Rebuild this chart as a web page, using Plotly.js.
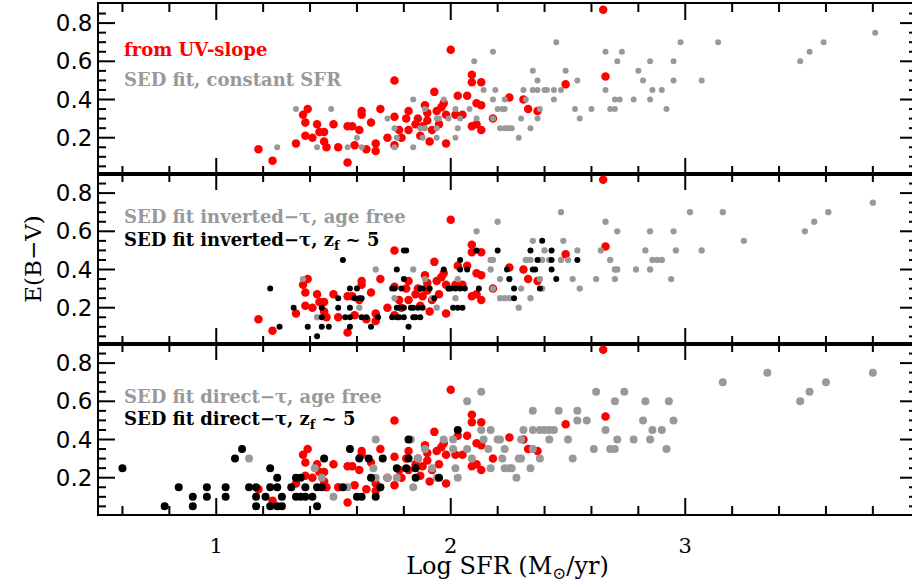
<!DOCTYPE html>
<html>
<head>
<meta charset="utf-8">
<script src="https://cdn.plot.ly/plotly-3.0.1.min.js"></script>
<style>
html,body{margin:0;padding:0;overflow:hidden;background:#fff;}
#chart{width:918px;height:583px;}
</style>
</head>
<body>
<div id="chart"></div>
<script>
// ---- Data ----
// E(B-V) from UV slope (red) - same sample shown in all panels
const uvSlopeX = [1.18,1.24,1.34,1.38,1.37,1.39,1.38,1.41,1.43,1.44,
                  1.46,1.46,1.47,1.50,1.52,1.56,1.56,1.58,1.61,1.62,
                  1.62,1.59,1.64,1.66,1.68,1.68,1.70,1.73,1.76,1.76,
                  1.76,1.78,1.79,1.81,1.82,1.82,1.85,1.86,1.87,1.88,
                  1.89,1.90,1.90,1.91,1.92,1.93,1.94,1.95,1.96,1.97,
                  1.98,1.98,2.00,2.02,2.03,2.05,2.07,2.09,2.09,2.09,
                  2.11,2.11,2.13,2.13,2.13,2.18,2.25,2.31,2.33,2.37,
                  2.49,2.65,2.66];
const uvSlopeY = [0.14,0.08,0.17,0.21,0.32,0.35,0.28,0.20,0.27,0.23,
                  0.23,0.18,0.15,0.27,0.15,0.07,0.26,0.26,0.24,0.32,
                  0.34,0.16,0.14,0.28,0.17,0.13,0.35,0.20,0.31,0.50,
                  0.16,0.24,0.20,0.30,0.34,0.24,0.27,0.30,0.21,0.26,
                  0.37,0.33,0.29,0.18,0.24,0.44,0.34,0.27,0.36,0.38,
                  0.32,0.17,0.66,0.32,0.42,0.32,0.42,0.26,0.53,0.49,
                  0.27,0.38,0.49,0.37,0.24,0.30,0.41,0.40,0.35,0.34,
                  0.48,0.87,0.52];

// SED fit, constant SFR (gray, top panel)
const constSfrX = [1.26,1.34,1.43,1.49,1.56,1.60,1.62,1.73,1.76,1.76,
                   1.77,1.84,1.84,1.87,1.89,1.89,1.88,1.94,1.94,1.94,
                   1.95,1.97,1.99,2.02,2.03,2.02,2.04,2.08,2.10,2.11,
                   2.14,2.18,2.18,2.19,2.20,2.21,2.18,2.23,2.25,2.23,
                   2.22,2.23,2.24,2.26,2.29,2.30,2.31,2.32,2.34,2.35,
                   2.35,2.37,2.37,2.37,2.38,2.40,2.41,2.44,2.44,2.45,
                   2.47,2.49,2.53,2.54,2.55,2.60,2.66,2.66,2.68,2.70,
                   2.70,2.72,2.71,2.73,2.78,2.80,2.82,2.85,2.85,2.86,
                   2.90,2.92,2.95,2.95,2.98,3.07,3.14,3.49,3.53,3.59,
                   3.81];
const constSfrY = [0.15,0.35,0.15,0.35,0.15,0.20,0.15,0.30,0.25,0.15,
                   0.20,0.15,0.40,0.25,0.25,0.35,0.20,0.30,0.25,0.20,
                   0.30,0.40,0.30,0.35,0.25,0.20,0.30,0.35,0.60,0.30,
                   0.45,0.65,0.40,0.45,0.35,0.25,0.30,0.25,0.25,0.40,
                   0.35,0.35,0.25,0.25,0.20,0.30,0.45,0.40,0.25,0.45,
                   0.55,0.30,0.50,0.45,0.35,0.45,0.45,0.45,0.40,0.70,
                   0.45,0.55,0.35,0.50,0.30,0.35,0.45,0.65,0.35,0.35,
                   0.40,0.40,0.60,0.65,0.40,0.55,0.50,0.60,0.40,0.45,
                   0.45,0.35,0.60,0.50,0.70,0.50,0.70,0.60,0.65,0.70,
                   0.75];

// SED fit inverted-tau, age free (gray, middle panel)
const invFreeX = [1.37,1.43,1.61,1.68,1.76,1.84,1.89,1.92,1.94,1.99,
                  2.02,2.03,2.11,2.17,2.17,2.18,2.18,2.20,2.21,2.21,
                  2.23,2.25,2.25,2.30,2.32,2.34,2.34,2.35,2.38,2.39,
                  2.38,2.39,2.42,2.40,2.29,2.47,2.47,2.48,2.50,2.52,
                  2.54,2.55,2.62,2.64,2.66,2.68,2.70,2.70,2.71,2.71,
                  2.79,2.83,2.85,2.85,2.86,2.88,2.90,2.94,2.95,2.96,
                  3.02,3.07,3.16,3.25,3.51,3.55,3.61,3.80];
const invFreeY = [0.35,0.15,0.20,0.40,0.25,0.40,0.35,0.25,0.20,0.30,
                  0.25,0.35,0.60,0.45,0.40,0.30,0.45,0.65,0.35,0.25,
                  0.25,0.25,0.35,0.30,0.45,0.25,0.45,0.55,0.35,0.30,
                  0.45,0.45,0.45,0.50,0.20,0.70,0.45,0.55,0.45,0.35,
                  0.50,0.30,0.35,0.50,0.65,0.45,0.35,0.40,0.40,0.60,
                  0.40,0.50,0.60,0.40,0.45,0.45,0.45,0.35,0.60,0.50,
                  0.70,0.50,0.70,0.55,0.60,0.65,0.70,0.75];

// SED fit inverted-tau, z_f ~ 5 (black, middle panel)
const invZfX = [1.23,1.27,1.33,1.39,1.43,1.45,1.45,1.45,1.48,1.52,
                1.52,1.54,1.55,1.57,1.57,1.57,1.57,1.59,1.61,1.62,
                1.60,1.62,1.64,1.66,1.69,1.75,1.76,1.75,1.77,1.78,
                1.80,1.77,1.77,1.78,1.80,1.80,1.81,1.79,1.80,1.82,
                1.84,1.85,1.87,1.83,1.84,1.86,1.88,1.87,1.88,1.91,
                1.93,1.97,1.99,2.00,2.01,2.03,2.05,2.02,2.04,2.06,
                2.04,2.07,2.04,2.11,2.12,2.20,2.24,2.25,2.27,2.27,
                2.34,2.35,2.36,2.37,2.38,2.39,2.43,2.43,2.43,2.45,
                2.54];
const invZfY = [0.30,0.10,0.20,0.10,0.05,0.20,0.15,0.10,0.10,0.25,
                0.20,0.45,0.15,0.15,0.30,0.20,0.10,0.25,0.25,0.25,
                0.30,0.15,0.15,0.10,0.15,0.30,0.30,0.15,0.15,0.15,
                0.15,0.40,0.20,0.20,0.20,0.50,0.50,0.30,0.35,0.10,
                0.15,0.15,0.15,0.20,0.20,0.20,0.20,0.30,0.30,0.30,
                0.25,0.40,0.30,0.30,0.20,0.20,0.20,0.30,0.30,0.30,
                0.40,0.40,0.45,0.50,0.30,0.50,0.40,0.35,0.30,0.25,
                0.50,0.40,0.40,0.45,0.30,0.55,0.50,0.45,0.40,0.35,
                0.45];

// SED fit direct-tau, age free (gray, bottom panel)
const dirFreeX = [1.14,1.42,1.45,1.50,1.56,1.67,1.68,1.68,1.73,1.77,
                  1.83,1.84,1.86,1.89,1.92,1.94,1.97,2.01,2.01,2.02,
                  2.03,2.07,2.07,2.09,2.13,2.13,2.14,2.16,2.17,2.20,
                  2.17,2.22,2.25,2.21,2.23,2.26,2.23,2.28,2.29,2.30,
                  2.30,2.31,2.34,2.35,2.35,2.35,2.38,2.38,2.40,2.42,
                  2.44,2.42,2.46,2.50,2.52,2.54,2.54,2.58,2.61,2.62,
                  2.66,2.68,2.70,2.70,2.71,2.74,2.78,2.82,2.83,2.85,
                  2.86,2.90,2.92,2.93,2.95,3.16,3.35,3.49,3.53,3.60,
                  3.80];
const dirFreeY = [0.30,0.25,0.20,0.10,0.15,0.25,0.40,0.20,0.20,0.20,
                  0.40,0.15,0.30,0.35,0.25,0.20,0.40,0.40,0.35,0.25,
                  0.20,0.60,0.35,0.30,0.65,0.45,0.40,0.35,0.45,0.40,
                  0.25,0.30,0.25,0.40,0.25,0.25,0.35,0.20,0.30,0.30,
                  0.40,0.45,0.25,0.45,0.55,0.35,0.30,0.45,0.45,0.45,
                  0.45,0.40,0.55,0.40,0.30,0.50,0.55,0.50,0.35,0.65,
                  0.45,0.35,0.35,0.60,0.40,0.65,0.40,0.50,0.60,0.40,
                  0.45,0.45,0.35,0.60,0.50,0.70,0.75,0.60,0.65,0.70,
                  0.75];

// SED fit direct-tau, z_f ~ 5 (black, bottom panel)
const dirZfX = [0.60,0.78,0.84,0.90,0.90,0.96,0.96,1.04,1.04,1.08,
                1.11,1.14,1.17,1.17,1.21,1.17,1.23,1.23,1.26,1.26,
                1.23,1.26,1.28,1.28,1.32,1.34,1.36,1.34,1.36,1.38,
                1.41,1.38,1.43,1.43,1.45,1.46,1.54,1.57,1.60,1.62,
                1.61,1.65,1.66,1.68,1.70,1.71,1.77,1.81,1.82,1.82,
                1.85,1.85,1.95,2.03];
const dirZfY = [0.25,0.05,0.15,0.10,0.05,0.15,0.10,0.15,0.10,0.30,
                0.35,0.15,0.15,0.10,0.10,0.05,0.25,0.15,0.15,0.20,
                0.05,0.05,0.05,0.10,0.15,0.20,0.20,0.10,0.10,0.10,
                0.10,0.15,0.05,0.15,0.15,0.30,0.15,0.35,0.10,0.10,
                0.30,0.30,0.20,0.10,0.15,0.30,0.25,0.25,0.30,0.40,
                0.25,0.20,0.20,0.45];

// Tick positions / labels
const xMajorTicks = [1, 2, 3];
const xTickText = ['1', '2', '3'];
const xMinorTicks = [0.6, 0.8, 1.2, 1.4, 1.6, 1.8, 2.2, 2.4, 2.6, 2.8, 3.2, 3.4, 3.6, 3.8];
const yMajorTicks = [0.2, 0.4, 0.6, 0.8];
const yTickText = ['0.2', '0.4', '0.6', '0.8'];
const yMinorTicks = [0.05, 0.1, 0.15, 0.25, 0.3, 0.35, 0.45, 0.5, 0.55, 0.65, 0.7, 0.75, 0.85];

const labels = {
  uv: 'from UV-slope',
  constSfr: 'SED fit, constant SFR',
  invFree: 'SED fit inverted\u2212\u03c4, age free',
  invZf: 'SED fit inverted\u2212\u03c4, z<sub>f</sub> ~ 5',
  dirFree: 'SED fit direct\u2212\u03c4, age free',
  dirZf: 'SED fit direct\u2212\u03c4, z<sub>f</sub> ~ 5'
};

// ---- Styles ----
const RED = '#ff0000', GRAY = '#999999', BLACK = '#000000';
const XR = [0.5, 3.984];
const YR = [0.01, 0.9];
const PLOT_W = 817, PANEL_H = 170;      // plot-area size in px (for tick lengths)
const MAJ = 16, MIN_X = 8, MIN_Y = 7;   // tick lengths in px

function pts(x, y, color, size, xa, ya, name) {
  return {type: 'scatter', mode: 'markers', x: x, y: y, xaxis: xa, yaxis: ya, name: name,
          marker: {color: color, size: size, line: {width: 0}}, hoverinfo: 'x+y', showlegend: false};
}

// inward tick marks on the four sides of a panel, as a line trace on that panel's axes
function tickTrace(xa, ya) {
  const tx = [], ty = [];
  const dy = len => len / PANEL_H * (YR[1] - YR[0]);
  const dx = len => len / PLOT_W * (XR[1] - XR[0]);
  const addX = (v, len) => {
    tx.push(v, v, null, v, v, null);
    ty.push(YR[0], YR[0] + dy(len), null, YR[1], YR[1] - dy(len), null);
  };
  const addY = (v, len) => {
    tx.push(XR[0], XR[0] + dx(len), null, XR[1], XR[1] - dx(len), null);
    ty.push(v, v, null, v, v, null);
  };
  xMajorTicks.forEach(v => addX(v, MAJ));
  xMinorTicks.forEach(v => addX(v, MIN_X));
  yMajorTicks.forEach(v => addY(v, MAJ));
  yMinorTicks.forEach(v => addY(v, MIN_Y));
  return {type: 'scatter', mode: 'lines', x: tx, y: ty, xaxis: xa, yaxis: ya, connectgaps: false,
          line: {color: '#000', width: 2}, hoverinfo: 'skip', showlegend: false, cliponaxis: false};
}

const traces = [
  pts(uvSlopeX, uvSlopeY, RED, 8.5, 'x', 'y', labels.uv),
  pts(constSfrX, constSfrY, GRAY, 6, 'x', 'y', labels.constSfr),
  pts(uvSlopeX, uvSlopeY, RED, 8.5, 'x2', 'y2', labels.uv),
  pts(invFreeX, invFreeY, GRAY, 6.3, 'x2', 'y2', labels.invFree),
  pts(invZfX, invZfY, BLACK, 6, 'x2', 'y2', labels.invZf),
  pts(uvSlopeX, uvSlopeY, RED, 8.5, 'x3', 'y3', labels.uv),
  pts(dirFreeX, dirFreeY, GRAY, 8, 'x3', 'y3', labels.dirFree),
  pts(dirZfX, dirZfY, BLACK, 8, 'x3', 'y3', labels.dirZf),
  tickTrace('x', 'y'), tickTrace('x2', 'y2'), tickTrace('x3', 'y3')
];

function xAxis(anchor, showLabels) {
  return {
    anchor: anchor, domain: [0, 1], range: XR, showgrid: false, zeroline: false,
    showline: true, linecolor: '#000', linewidth: 2, mirror: true,
    // invisible outside ticks only push the labels down
    ticks: showLabels ? 'outside' : '', ticklen: 12, tickcolor: 'rgba(0,0,0,0)',
    tickmode: 'array', tickvals: xMajorTicks, ticktext: xTickText,
    showticklabels: showLabels,
    tickfont: {family: 'DejaVu Serif', size: 21, color: '#000'}
  };
}
function yAxis(anchor, domain) {
  return {
    anchor: anchor, domain: domain, range: YR, showgrid: false, zeroline: false,
    showline: true, linecolor: '#000', linewidth: 2, mirror: true,
    ticks: '', tickmode: 'array', tickvals: yMajorTicks, ticktext: yTickText,
    tickfont: {family: 'DejaVu Sans', size: 23, color: '#000'}
  };
}

const layout = {
  width: 918, height: 583,
  margin: {l: 99, r: 2, t: 4, b: 69, pad: 0},
  paper_bgcolor: '#fff', plot_bgcolor: 'rgba(0,0,0,0)',
  showlegend: false,
  xaxis: xAxis('y', false),
  xaxis2: xAxis('y2', false),
  xaxis3: Object.assign(xAxis('y3', true), {
    title: {text: 'Log SFR (M<sub>\u2299</sub>/yr)', standoff: 11,
            font: {family: 'DejaVu Serif', size: 24, color: '#000'}}
  }),
  yaxis: yAxis('x', [2/3, 1]),
  yaxis2: Object.assign(yAxis('x2', [1/3, 2/3]), {
    title: {text: 'E(B\u2212V)', standoff: 8,
            font: {family: 'DejaVu Serif', size: 23, color: '#000'}}
  }),
  yaxis3: yAxis('x3', [0, 1/3]),
  annotations: [
    {xref: 'x', yref: 'y', x: 0.597, y: 0.66, xanchor: 'left', yanchor: 'middle', showarrow: false,
     text: '<b>' + labels.uv + '</b>', font: {family: 'DejaVu Serif', size: 18, color: RED}},
    {xref: 'x', yref: 'y', x: 0.597, y: 0.507, xanchor: 'left', yanchor: 'middle', showarrow: false,
     text: '<b>' + labels.constSfr + '</b>', font: {family: 'DejaVu Serif', size: 18, color: GRAY}},
    {xref: 'x2', yref: 'y2', x: 0.597, y: 0.677, xanchor: 'left', yanchor: 'middle', showarrow: false,
     text: '<b>' + labels.invFree + '</b>', font: {family: 'DejaVu Serif', size: 18, color: GRAY}},
    {xref: 'x2', yref: 'y2', x: 0.597, y: 0.55, xanchor: 'left', yanchor: 'middle', showarrow: false,
     text: '<b>' + labels.invZf + '</b>', font: {family: 'DejaVu Serif', size: 18, color: BLACK}},
    {xref: 'x3', yref: 'y3', x: 0.597, y: 0.624, xanchor: 'left', yanchor: 'middle', showarrow: false,
     text: '<b>' + labels.dirFree + '</b>', font: {family: 'DejaVu Serif', size: 18, color: GRAY}},
    {xref: 'x3', yref: 'y3', x: 0.597, y: 0.50, xanchor: 'left', yanchor: 'middle', showarrow: false,
     text: '<b>' + labels.dirZf + '</b>', font: {family: 'DejaVu Serif', size: 18, color: BLACK}}
  ]
};

Plotly.newPlot('chart', traces, layout, {displayModeBar: false, staticPlot: true});
</script>
</body>
</html>
